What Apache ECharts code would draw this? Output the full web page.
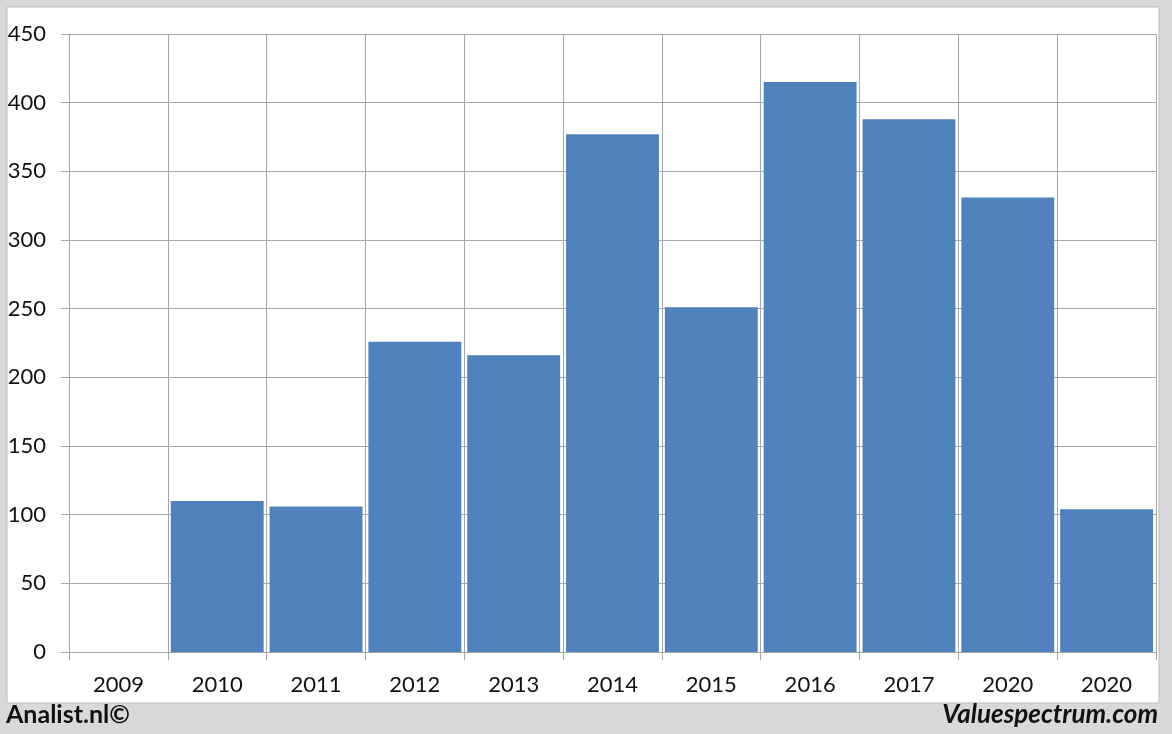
<!DOCTYPE html>
<html>
<head>
<meta charset="utf-8">
<script src="https://cdn.jsdelivr.net/npm/echarts@6/dist/echarts.min.js"></script>
<style>
html,body{margin:0;padding:0;background:#d9d9d9;}
#c{width:1172px;height:734px;}
</style>
</head>
<body>
<div id="c"></div>
<script>
var categories = ['2009','2010','2011','2012','2013','2014','2015','2016','2017','2020','2020'];
var values = [0,110,106,226,216,377,251,415,388,331,104];
var yTicks = {min:0, max:450, interval:50};

var chart = echarts.init(document.getElementById('c'), null, {renderer:'canvas'});
var font = 'Lato, "Open Sans", sans-serif';
var gridColor = '#a6a6a6';
chart.setOption({
  backgroundColor:'#d9d9d9',
  animation:false,
  graphic:[
    {type:'rect', z:-10, shape:{x:7,y:7,width:1152,height:696}, style:{fill:'#ffffff', stroke:'#bdbdbd', lineWidth:1}},
    {type:'text', left:6, top:702, style:{text:'Analist.nl©', fill:'#111', font:'bold 25px '+font}},
    {type:'text', right:14, top:702, style:{text:'Valuespectrum.com', fill:'#111', font:'italic bold 26px '+font}}
  ],
  grid:{left:69, right:16, top:34, bottom:82, containLabel:false},
  xAxis:{
    type:'category', data:categories, boundaryGap:true,
    axisLine:{show:true, lineStyle:{color:gridColor, width:1}},
    axisTick:{show:true, interval:0, length:8, lineStyle:{color:gridColor}},
    axisLabel:{interval:0, margin:22, color:'#111', fontSize:22, fontFamily:font},
    splitLine:{show:true, interval:0, lineStyle:{color:gridColor, width:1}}
  },
  yAxis:{
    type:'value', min:yTicks.min, max:yTicks.max, interval:yTicks.interval,
    axisLine:{show:true, lineStyle:{color:gridColor, width:1}},
    axisTick:{show:true, length:8, lineStyle:{color:gridColor}},
    axisLabel:{margin:23, color:'#111', fontSize:22, fontFamily:font},
    splitLine:{show:true, lineStyle:{color:gridColor, width:1}}
  },
  series:[{
    type:'bar', data:values, barCategoryGap:'6%',
    itemStyle:{color:'#4f81bd', borderWidth:0}
  }]
});
</script>
</body>
</html>
